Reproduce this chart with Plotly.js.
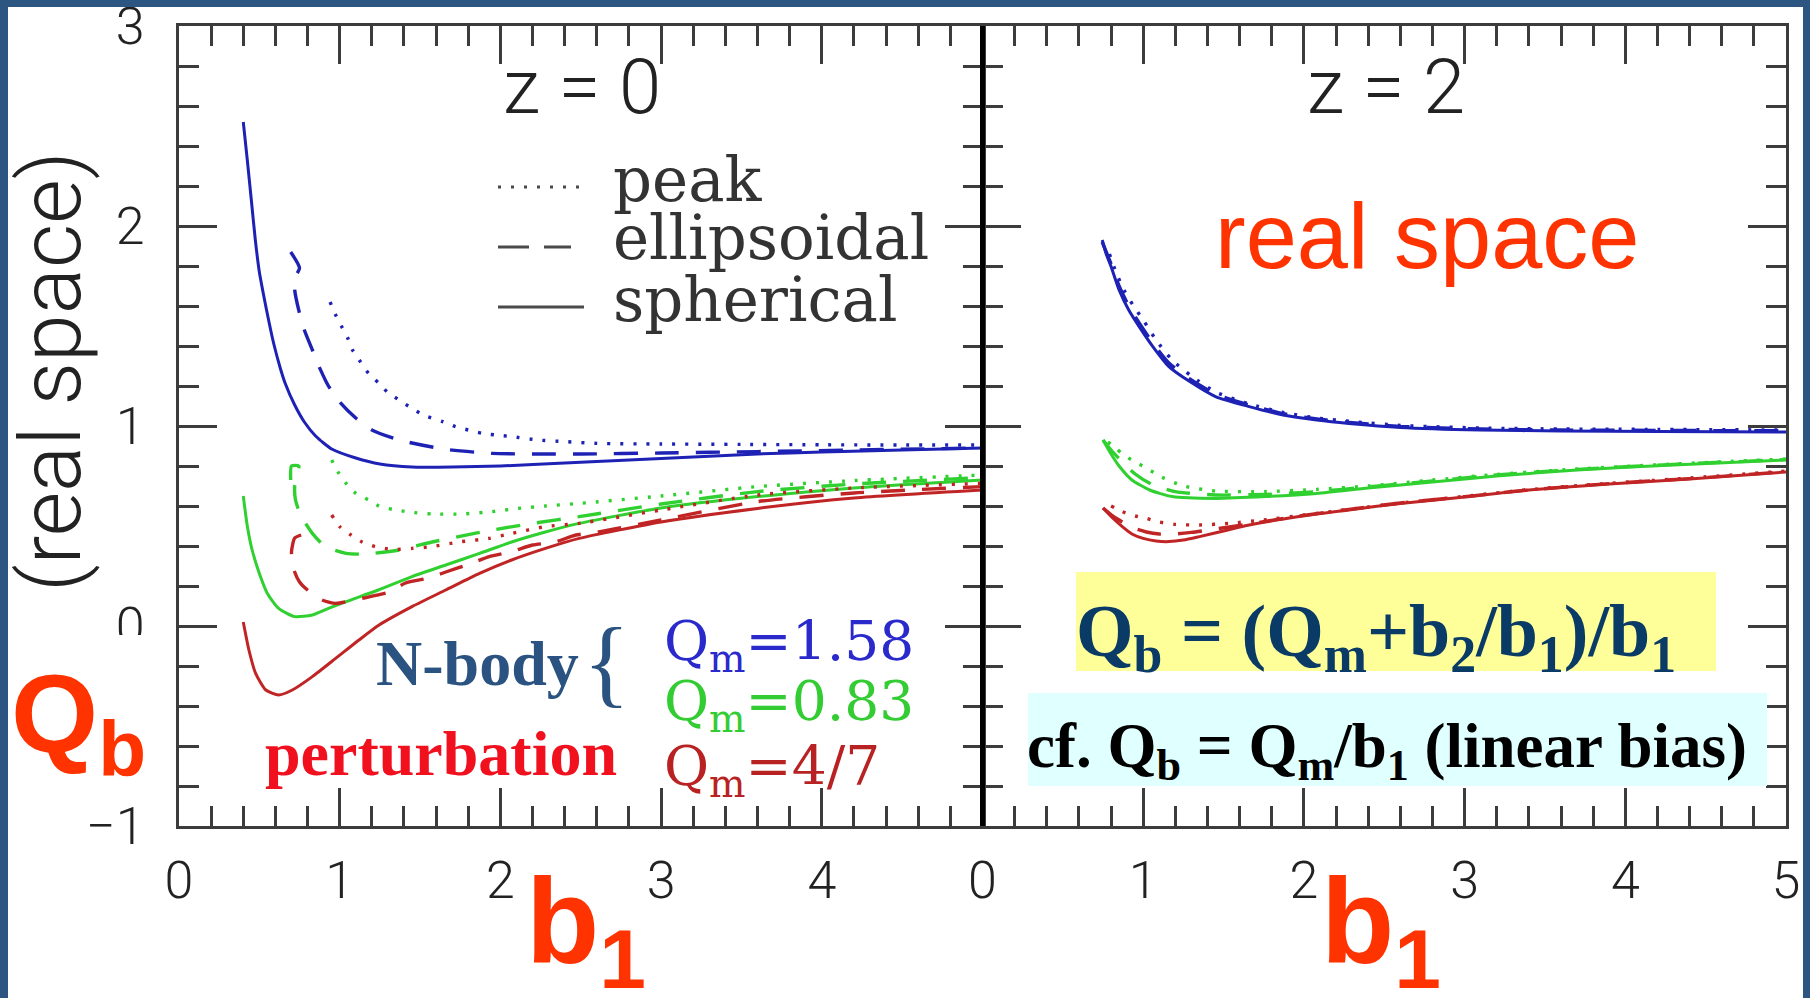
<!DOCTYPE html>
<html><head><meta charset="utf-8">
<script src="https://cdn.plot.ly/plotly-3.0.1.min.js"></script>
<style>html,body{margin:0;padding:0;background:#fff;}#chart{width:1810px;height:998px;}</style>
</head><body><div id="chart"></div>
<script>
// ===== DATA =====
// z = 0 panel : Q_b versus b_1
const z0BlueSphB1 = [0.40,0.425,0.45,0.475,0.50,0.53,0.56,0.59,0.63,0.66,0.72,0.78,0.85,0.95,1.10,1.25,1.45,1.70,2.00,2.40,2.80,3.20,3.60,4.00,4.50,5.00];
const z0BlueSphQ  = [2.52,2.33,2.13,1.93,1.77,1.64,1.52,1.41,1.29,1.215,1.105,1.02,0.95,0.885,0.84,0.81,0.795,0.795,0.80,0.815,0.83,0.845,0.86,0.87,0.88,0.89];
const z0BlueEllB1 = [0.695,0.75,0.72,0.72,0.745,0.78,0.83,0.87,0.93,1.00,1.10,1.20,1.37,1.66,1.95,2.20,2.50,3.00,3.60,4.20,5.00];
const z0BlueEllQ  = [1.87,1.79,1.74,1.68,1.58,1.48,1.38,1.30,1.20,1.12,1.04,0.98,0.93,0.883,0.863,0.86,0.86,0.865,0.872,0.88,0.89];
const z0BluePkB1  = [0.94,0.975,1.01,1.05,1.08,1.13,1.18,1.245,1.30,1.37,1.44,1.52,1.64,1.72,1.80,1.89,1.97,2.07,2.23,2.40,2.60,3.00,3.50,4.00,4.50,5.00];
const z0BluePkQ   = [1.62,1.555,1.50,1.44,1.38,1.32,1.263,1.213,1.167,1.13,1.093,1.055,1.022,0.997,0.98,0.963,0.955,0.947,0.93,0.922,0.913,0.91,0.908,0.906,0.905,0.905];

const z0GreenSphB1 = [0.40,0.425,0.455,0.50,0.55,0.62,0.72,0.83,0.93,1.04,1.24,1.45,1.66,1.87,2.07,2.28,2.49,3.00,3.60,4.20,5.00];
const z0GreenSphQ  = [0.65,0.50,0.38,0.263,0.163,0.088,0.047,0.055,0.088,0.122,0.18,0.247,0.305,0.363,0.42,0.47,0.513,0.59,0.647,0.69,0.73];
const z0GreenEllB1 = [0.695,0.70,0.745,0.72,0.725,0.757,0.83,0.91,1.04,1.16,1.37,1.575,1.74,1.95,2.20,2.49,3.00,3.60,4.20,5.00];
const z0GreenEllQ  = [0.73,0.80,0.80,0.70,0.63,0.555,0.463,0.397,0.363,0.36,0.38,0.42,0.447,0.48,0.513,0.547,0.61,0.672,0.71,0.742];
const z0GreenPkB1  = [0.95,0.995,1.04,1.10,1.18,1.245,1.33,1.43,1.575,1.76,1.95,2.11,2.28,2.49,3.00,3.60,4.20,5.00];
const z0GreenPkQ   = [0.83,0.763,0.713,0.663,0.63,0.60,0.583,0.57,0.56,0.56,0.572,0.588,0.60,0.613,0.65,0.697,0.727,0.755];

const z0RedSphB1 = [0.40,0.435,0.477,0.54,0.62,0.705,0.83,0.975,1.12,1.245,1.45,1.66,1.87,2.07,2.28,2.49,3.00,3.60,4.20,5.00];
const z0RedSphQ  = [0.02,-0.12,-0.237,-0.32,-0.345,-0.32,-0.253,-0.162,-0.07,0.005,0.097,0.18,0.263,0.33,0.388,0.438,0.52,0.588,0.64,0.68];
const z0RedEllB1 = [0.76,0.72,0.70,0.715,0.75,0.80,0.89,0.975,1.15,1.31,1.41,1.555,1.66,1.82,1.93,2.07,2.20,2.34,2.47,2.61,3.00,3.60,4.20,5.00];
const z0RedEllQ  = [0.455,0.44,0.37,0.28,0.22,0.18,0.13,0.113,0.14,0.17,0.215,0.24,0.27,0.313,0.347,0.372,0.405,0.42,0.455,0.47,0.53,0.622,0.665,0.697];
const z0RedPkB1  = [0.95,1.00,1.07,1.14,1.22,1.33,1.45,1.575,1.74,1.93,2.07,2.28,2.49,3.00,3.60,4.20,5.00];
const z0RedPkQ   = [0.555,0.497,0.455,0.42,0.397,0.383,0.388,0.397,0.42,0.438,0.463,0.497,0.513,0.58,0.655,0.69,0.713];

// z = 2 panel
const z2BlueSphB1 = [0.745,0.77,0.80,0.85,0.91,0.975,1.06,1.16,1.29,1.45,1.66,1.87,2.08,2.28,2.60,3.10,3.60,4.20,5.00];
const z2BlueSphQ  = [1.93,1.86,1.797,1.68,1.58,1.497,1.397,1.297,1.222,1.147,1.097,1.055,1.03,1.013,0.993,0.98,0.975,0.972,0.97];
const z2BlueEllB1 = [0.745,0.77,0.80,0.85,0.91,0.975,1.06,1.16,1.29,1.45,1.66,1.87,2.08,2.28,2.60,3.10,3.60,4.20,5.00];
const z2BlueEllQ  = [1.92,1.87,1.81,1.70,1.60,1.515,1.415,1.315,1.235,1.16,1.105,1.062,1.035,1.018,0.998,0.985,0.98,0.978,0.976];
const z2BluePkB1  = [0.79,0.83,0.88,0.94,1.00,1.08,1.18,1.30,1.45,1.66,1.87,2.08,2.30,2.60,3.10,3.60,4.20,5.00];
const z2BluePkQ   = [1.86,1.77,1.68,1.60,1.53,1.43,1.33,1.25,1.17,1.11,1.068,1.04,1.022,1.003,0.99,0.985,0.983,0.98];

const z2GreenSphB1 = [0.75,0.80,0.85,0.93,1.04,1.18,1.45,1.76,2.08,2.40,2.80,3.20,3.70,4.30,5.00];
const z2GreenSphQ  = [0.93,0.86,0.80,0.73,0.68,0.647,0.638,0.647,0.663,0.69,0.72,0.75,0.78,0.805,0.83];
const z2GreenEllB1 = [0.75,0.80,0.87,0.95,1.05,1.20,1.45,1.76,2.08,2.40,2.80,3.20,3.70,4.30,5.00];
const z2GreenEllQ  = [0.93,0.88,0.82,0.76,0.71,0.672,0.655,0.658,0.672,0.695,0.725,0.755,0.783,0.808,0.832];
const z2GreenPkB1  = [0.78,0.83,0.87,0.95,1.02,1.10,1.25,1.45,1.76,2.08,2.40,2.80,3.20,3.70,4.30,5.00];
const z2GreenPkQ   = [0.92,0.89,0.86,0.82,0.79,0.75,0.70,0.675,0.672,0.683,0.70,0.73,0.758,0.785,0.81,0.835];

const z2RedSphB1 = [0.75,0.81,0.87,0.93,1.00,1.08,1.16,1.25,1.35,1.50,1.66,1.97,2.28,2.60,3.00,3.40,3.90,4.40,5.00];
const z2RedSphQ  = [0.59,0.54,0.497,0.46,0.438,0.425,0.422,0.43,0.447,0.475,0.505,0.547,0.58,0.613,0.645,0.68,0.71,0.735,0.77];
const z2RedEllB1 = [0.75,0.81,0.87,0.94,1.02,1.10,1.20,1.30,1.45,1.66,1.97,2.28,2.60,3.00,3.40,3.90,4.40,5.00];
const z2RedEllQ  = [0.59,0.55,0.52,0.49,0.47,0.46,0.46,0.468,0.485,0.51,0.55,0.583,0.615,0.647,0.68,0.712,0.737,0.772];
const z2RedPkB1  = [0.80,0.87,0.95,1.02,1.10,1.20,1.35,1.53,1.75,2.00,2.30,2.60,3.00,3.40,3.90,4.40,5.00];
const z2RedPkQ   = [0.60,0.572,0.55,0.538,0.52,0.508,0.505,0.513,0.53,0.555,0.585,0.615,0.648,0.682,0.713,0.74,0.775];

// tick labels
const xTicksLeft  = [0,1,2,3,4];
const xTicksRight = [0,1,2,3,4,5];
const yTicks      = [-1,0,1,2,3];

// ===== STYLE / LAYOUT =====
const BLUE = '#1e22b4', GREEN = '#30d030', RED = '#c02424';
const DOT = '3px,10px', DASH = '24px,17px';
const W = 1810, H = 998, L = 179, R = 1786, T = 26, B = 826;
const px = v => (v - L) / (R - L);
const py = v => (B - v) / (B - T);

function tr(x, y, color, dash, panel) {
  return {x: x, y: y, type: 'scatter', mode: 'lines',
    xaxis: panel === 2 ? 'x2' : 'x', yaxis: panel === 2 ? 'y2' : 'y',
    line: {color: color, width: dash === 'solid' ? 3 : 3.4, dash: dash, shape: 'spline', smoothing: 0.6},
    hoverinfo: 'skip', showlegend: false};
}
const data = [
  tr(z0BluePkB1, z0BluePkQ, BLUE, DOT, 1),
  tr(z0BlueEllB1, z0BlueEllQ, BLUE, DASH, 1),
  tr(z0BlueSphB1, z0BlueSphQ, BLUE, 'solid', 1),
  tr(z0GreenPkB1, z0GreenPkQ, GREEN, DOT, 1),
  tr(z0GreenEllB1, z0GreenEllQ, GREEN, DASH, 1),
  tr(z0GreenSphB1, z0GreenSphQ, GREEN, 'solid', 1),
  tr(z0RedPkB1, z0RedPkQ, RED, DOT, 1),
  tr(z0RedEllB1, z0RedEllQ, RED, DASH, 1),
  tr(z0RedSphB1, z0RedSphQ, RED, 'solid', 1),
  tr(z2BluePkB1, z2BluePkQ, BLUE, DOT, 2),
  tr(z2BlueEllB1, z2BlueEllQ, BLUE, DASH, 2),
  tr(z2BlueSphB1, z2BlueSphQ, BLUE, 'solid', 2),
  tr(z2GreenPkB1, z2GreenPkQ, GREEN, DOT, 2),
  tr(z2GreenEllB1, z2GreenEllQ, GREEN, DASH, 2),
  tr(z2GreenSphB1, z2GreenSphQ, GREEN, 'solid', 2),
  tr(z2RedPkB1, z2RedPkQ, RED, DOT, 2),
  tr(z2RedEllB1, z2RedEllQ, RED, DASH, 2),
  tr(z2RedSphB1, z2RedSphQ, RED, 'solid', 2)
];

const AX = '#3c3c3c';
const tickFont = {family: 'Roboto, "DejaVu Sans", sans-serif', weight: 300, size: 52, color: '#222'};
const minorX = {tickmode: 'linear', tick0: 0, dtick: 0.2, ticks: 'inside', ticklen: 20, tickwidth: 3, tickcolor: AX};
const minorY = {tickmode: 'linear', tick0: 0, dtick: 0.2, ticks: 'inside', ticklen: 20, tickwidth: 3, tickcolor: AX};
function xax(domain, vals, anchor) {
  return {domain: domain, range: [0, 5], anchor: anchor, tickmode: 'array', tickvals: vals,
    ticktext: vals.map(String), ticks: 'inside', ticklen: 38, tickwidth: 3, tickcolor: AX,
    minor: minorX, showline: true, linecolor: AX, linewidth: 3, mirror: 'ticks',
    showgrid: false, zeroline: false, tickfont: tickFont, ticklabelstandoff: 7,
    ticklabeloverflow: 'allow', automargin: false, fixedrange: true};
}
function yax(show, anchor) {
  return {domain: [0, 1], range: [-1, 3], anchor: anchor, tickmode: 'array', tickvals: yTicks,
    ticktext: yTicks.map(v => v < 0 ? '\u2212' + Math.abs(v) : String(v)), showticklabels: show,
    ticks: 'inside', ticklen: 38, tickwidth: 3, tickcolor: AX, minor: minorY,
    showline: true, linecolor: AX, linewidth: 3, mirror: 'ticks', showgrid: false, zeroline: false,
    tickfont: tickFont, ticklabelstandoff: 21, ticklabeloverflow: 'allow', automargin: false, fixedrange: true};
}

function rect(x0, y0, x1, y1, color) {
  return {type: 'rect', xref: 'paper', yref: 'paper', x0: px(x0), x1: px(x1), y0: py(y1), y1: py(y0),
    fillcolor: color, line: {width: 0}, layer: 'above'};
}
function hline(x0, x1, y, dash) {
  return {type: 'line', xref: 'paper', yref: 'paper', x0: px(x0), x1: px(x1), y0: py(y), y1: py(y),
    line: {color: '#4a4a4a', width: 3, dash: dash}, layer: 'above'};
}
const FRAME = '#2D5582';
const shapes = [
  rect(-5, -5, W + 5, 7, FRAME),
  rect(-5, -5, 8, H + 5, FRAME),
  rect(1803, -5, W + 5, H + 5, FRAME),
  rect(8, 635, 172, 800, '#ffffff'),
  rect(1076, 572, 1716, 671, '#FFFF99'),
  rect(1028, 693, 1767, 786, '#E0FFFF'),
  {type: 'line', xref: 'paper', yref: 'paper', x0: 0.5, x1: 0.5, y0: 0, y1: 1, line: {color: '#000', width: 5}, layer: 'above'},
  hline(498, 579, 187, DOT),
  hline(498, 571, 247, '31px,15px'),
  hline(498, 584, 307, 'solid')
];

function ann(text, x, y, font, xanchor, extra) {
  return Object.assign({text: text, xref: 'paper', yref: 'paper', x: px(x), y: py(y), showarrow: false,
    xanchor: xanchor || 'center', yanchor: 'middle', font: font, borderpad: 0}, extra || {});
}
const thin = (s, c) => ({family: 'Roboto, "DejaVu Sans", sans-serif', weight: 300, size: s, color: c || '#222'});
const serif = (s, c) => ({family: '"DejaVu Serif", serif', size: s, color: c || '#333'});
const times = (s, c, w) => ({family: '"Liberation Serif", "Times New Roman", serif', weight: w || 'bold', size: s, color: c});
const arialB = (s, c) => ({family: '"Liberation Sans", Arial, sans-serif', weight: 'bold', size: s, color: c});
const ORANGE = '#FF3300';

const annotations = [
  ann('z = 0', 582, 87, thin(76)),
  ann('z = 2', 1386, 87, thin(76)),
  ann('peak', 612, 179, serif(61), 'left'),
  ann('ellipsoidal', 612, 237, serif(61), 'left'),
  ann('spherical', 612, 299, serif(61), 'left'),
  ann('real space', 1427, 236, {family: '"Liberation Sans", Arial, sans-serif', size: 92, color: ORANGE}),
  ann('N-body', 375, 663, times(64, '#2B5381'), 'left'),
  ann('{', 606, 662, times(98, '#2B5381', 'normal')),
  ann('perturbation', 264, 753, times(64, '#F0101E'), 'left'),
  ann('Q<sub>m</sub>=1.58', 663, 645, serif(55, '#2A2ACC'), 'left'),
  ann('Q<sub>m</sub>=0.83', 663, 705, serif(55, '#33CC33'), 'left'),
  ann('Q<sub>m</sub>=4/7', 663, 770, serif(55, '#B82222'), 'left'),
  ann('Q<sub>b</sub>', 10, 722, arialB(112, ORANGE), 'left'),
  ann('b<sub>1</sub>', 525, 930, arialB(120, ORANGE), 'left'),
  ann('b<sub>1</sub>', 1320, 930, arialB(120, ORANGE), 'left'),
  ann('(real space)', 50, 372, thin(86), 'center', {textangle: -90}),
  ann('Q<sub>b</sub> = (Q<sub>m</sub>+b<sub>2</sub>/b<sub>1</sub>)/b<sub>1</sub>', 1075, 636, times(74, '#0A3A66'), 'left'),
  ann('cf. Q<sub>b</sub> = Q<sub>m</sub>/b<sub>1</sub> (linear bias)', 1026, 750, times(63, '#000'), 'left')
];

const layout = {
  width: W, height: H, margin: {l: L, r: W - R, t: T, b: H - B, pad: 0},
  paper_bgcolor: '#ffffff', plot_bgcolor: 'rgba(0,0,0,0)', showlegend: false,
  xaxis: xax([0, 0.5], xTicksLeft, 'y'),
  xaxis2: xax([0.5, 1], xTicksRight, 'y2'),
  yaxis: yax(true, 'x'),
  yaxis2: yax(false, 'x2'),
  shapes: shapes, annotations: annotations
};
Plotly.newPlot('chart', data, layout, {displayModeBar: false, staticPlot: true});
</script></body></html>
